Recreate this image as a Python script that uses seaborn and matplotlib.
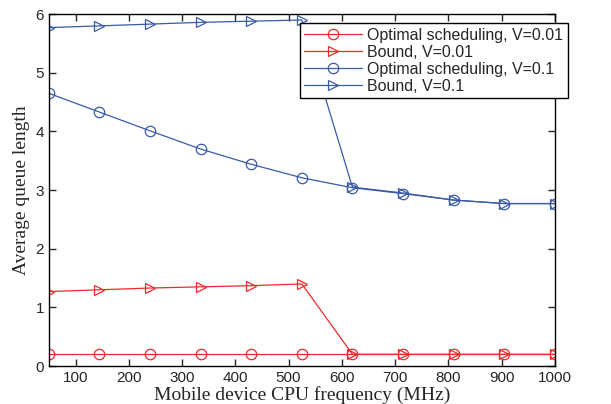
import numpy as np
import pandas as pd
import seaborn as sns
import matplotlib.pyplot as plt

# CPU frequency (MHz)
freq = [50, 145, 240, 335, 430, 525, 620, 715, 810, 905, 1000]
opt_v001 = [0.2, 0.2, 0.2, 0.2, 0.2, 0.2, 0.2, 0.2, 0.2, 0.2, 0.2]
bound_v001 = [1.27, 1.30, 1.33, 1.35, 1.37, 1.40, 0.2, 0.2, 0.2, 0.2, 0.2]
opt_v01 = [4.65, 4.33, 4.01, 3.70, 3.44, 3.21, 3.04, 2.94, 2.83, 2.77, 2.77]
bound_v01 = [5.77, 5.80, 5.83, 5.86, 5.88, 5.90, 3.05, 2.95, 2.83, 2.77, 2.77]

labels = ['Optimal scheduling, V=0.01', 'Bound, V=0.01',
          'Optimal scheduling, V=0.1', 'Bound, V=0.1']
series = [opt_v001, bound_v001, opt_v01, bound_v01]

sns.set_style('ticks')
plt.rcParams['font.family'] = ['Liberation Sans', 'DejaVu Sans']

red = '#ee2a2a'
blue = '#3a5aa8'
colors = [red, red, blue, blue]
markers = ['o', '>', 'o', '>']

fig = plt.figure(figsize=(6.11, 4.04), dpi=100)
ax = fig.add_axes([0.080, 0.094, 0.828, 0.871])

for vals, lab, c, m in zip(series, labels, colors, markers):
    df = pd.DataFrame({'freq': freq, 'q': vals})
    sns.lineplot(data=df, x='freq', y='q', ax=ax, color=c, marker=m,
                 markersize=7.5, markerfacecolor='none', markeredgecolor=c,
                 markeredgewidth=0.9, linewidth=0.9, label=lab)

ax.set_xlim(50, 1000)
ax.set_ylim(0, 6)
ax.set_xticks([100, 200, 300, 400, 500, 600, 700, 800, 900, 1000])
ax.set_yticks([0, 1, 2, 3, 4, 5, 6])
ax.tick_params(direction='in', top=True, right=True, labelsize=11, length=5, width=1)
for s in ax.spines.values():
    s.set_linewidth(1.0)
    s.set_color('black')

ax.set_xlabel('Mobile device CPU frequency (MHz)', family='Liberation Serif', fontsize=14, labelpad=1)
ax.set_ylabel('Average queue length', family='Liberation Serif', fontsize=14, labelpad=4)

leg = ax.legend(loc='upper right', bbox_to_anchor=(0.93, 0.943),
                bbox_transform=fig.transFigure, fancybox=False, framealpha=1,
                edgecolor='black', fontsize=11.5, borderpad=0.3, labelspacing=0.12,
                handlelength=3.6, handletextpad=0.35, borderaxespad=0)
leg.get_frame().set_linewidth(1.0)

fig.savefig('out.png', dpi=100)
